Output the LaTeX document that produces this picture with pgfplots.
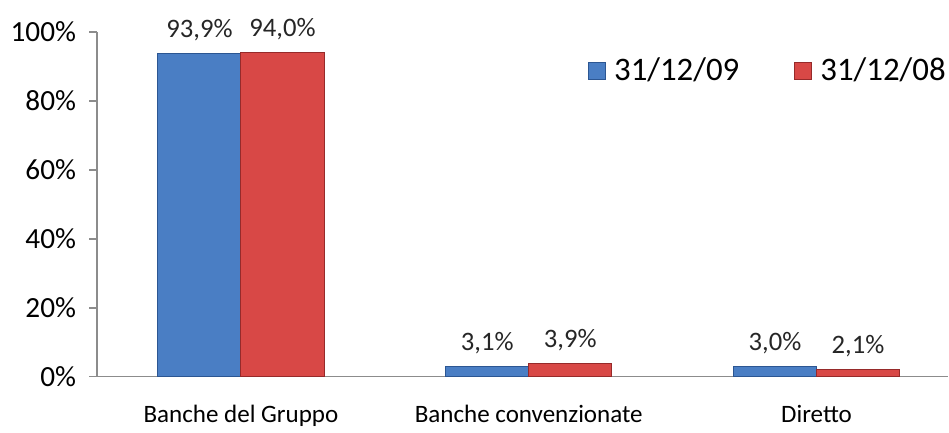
\documentclass[border=0pt]{standalone}
\usepackage{pgfplots}
\pgfplotsset{compat=1.18}
\usepackage{fontspec}
\setmainfont{Carlito}
\definecolor{barblue}{RGB}{74,126,196}
\definecolor{barblueedge}{RGB}{44,86,146}
\definecolor{barred}{RGB}{216,72,70}
\definecolor{barrededge}{RGB}{150,42,42}
\definecolor{axgray}{RGB}{140,140,140}
\begin{document}
\begin{tikzpicture}
\begin{axis}[name=ax,
  scale only axis, width=425pt, height=172.25pt,
  xmin=-0.5, xmax=2.457, ymin=0, ymax=100,
  axis lines*=left, axis line style={axgray, line width=0.6pt},
  tick style={axgray, line width=0.6pt}, tick align=outside, major tick length=4pt,
  ytick={0,20,40,60,80,100},
  yticklabel={\pgfmathprintnumber{\tick}\%},
  yticklabel style={xshift=-3pt, font=\fontsize{14.6}{16}\selectfont},
  xtick={0,1,2}, xticklabels={Banche del Gruppo, Banche convenzionate, Diretto},
  xtick style={draw=none},
  xticklabel style={yshift=-6.5pt, font=\fontsize{12.5}{15}\selectfont},
  extra x ticks={0.5,1.5}, extra x tick labels={},
  extra x tick style={tick style={axgray, line width=0.6pt, draw=axgray}, major tick length=4pt},
  /pgf/number format/assume math mode=true,
  ybar=0pt, bar width=41.5pt,
  nodes near coords={\pgfmathprintnumber[fixed,fixed zerofill,precision=1,use comma]{\pgfplotspointmeta}\%},
  nodes near coords style={font=\fontsize{13.3}{15}\selectfont, anchor=base, yshift=8pt, text=black!85},
  legend style={draw=none, fill=none, at={(0.5695,0.887)}, anchor=west,
    font=\fontsize{16.4}{19}\selectfont, legend columns=2,
    /tikz/every even column/.append style={column sep=25.5pt}},
  legend image code/.code={\draw[#1, line width=0.5pt] (-8.5pt,-4.25pt) rectangle (0pt,4.25pt); \path (2pt,0pt);},
]
\addplot[fill=barblue, draw=barblueedge, line width=0.5pt] coordinates {(0,93.9) (1,3.1) (2,3.0)};
\addplot[fill=barred, draw=barrededge, line width=0.5pt] coordinates {(0,94.0) (1,3.9) (2,2.1)};
\legend{31/12/09, 31/12/08}
\end{axis}
\pgfresetboundingbox
\useasboundingbox ([xshift=-48.5pt,yshift=-28pt]ax.south west) rectangle ([xshift=0.5pt,yshift=16pt]ax.north east);
\end{tikzpicture}
\end{document}
